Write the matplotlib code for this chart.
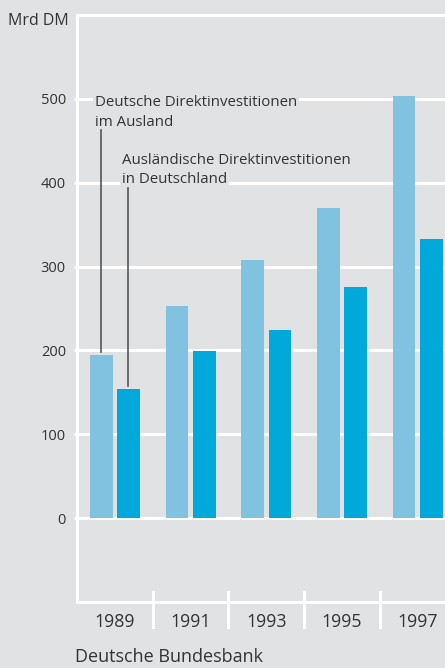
import matplotlib
matplotlib.use("Agg")
import matplotlib.pyplot as plt
import numpy as np

# data (Mrd DM)
years = ["1989", "1991", "1993", "1995", "1997"]
deutsche_im_ausland = [194, 253, 308, 370, 503]
auslaendische_in_de = [154, 199, 224, 276, 333]
yticks = [0, 100, 200, 300, 400, 500]

bg = "#e1e2e4"
light = "#80c2e0"
dark = "#00a9d9"
txt = "#333333"

plt.rcParams['font.family'] = ['Open Sans', 'DejaVu Sans']

fig = plt.figure(figsize=(4.45, 6.68), dpi=100)
fig.patch.set_facecolor(bg)
W, H = 445.0, 668.0
ax = fig.add_axes([77 / W, (H - 602) / H, 378.5 / W, 587 / H])
ax.set_facecolor(bg)

x = np.arange(len(years))
bw = 0.30
off = 0.18
ax.bar(x - off, deutsche_im_ausland, bw, color=light, zorder=3)
ax.bar(x + off, auslaendische_in_de, bw, color=dark, zorder=3)

ax.set_xlim(-0.5, 4.5)
ax.set_ylim(-100, 600)

# white grid
for v in yticks:
    ax.axhline(v, color="white", lw=2.2, zorder=1)
for s in ax.spines.values():
    s.set_visible(False)
ax.axvline(-0.5, color="white", lw=2.2, zorder=1, clip_on=False)
ax.axhline(600, color="white", lw=2.2, zorder=1, clip_on=False)
ax.axhline(-100, color="white", lw=2.2, zorder=1, clip_on=False)

# category separators below axis
for b in np.arange(0.5, 4.5, 1):
    ax.plot([b, b], [-88, -130], color="white", lw=2.2, clip_on=False, zorder=1)

ax.set_xticks([])
ax.set_yticks(yticks)
ax.set_yticklabels([str(v) for v in yticks], fontsize=10.5, color=txt)
ax.tick_params(axis="y", length=2, width=2, color="white", pad=6)

for i, yr in enumerate(years):
    ax.text(i, -124, yr, ha="center", va="center", fontsize=12.8, color=txt, clip_on=False)

fig.text(8 / W, 1 - 21 / H, "Mrd DM", ha="left", va="center", fontsize=11.5, color=txt)
fig.text(75 / W, 1 - 657 / H, "Deutsche Bundesbank", ha="left", va="center", fontsize=13, color=txt)

# labels with leader lines
box = dict(facecolor=bg, edgecolor="none", pad=1.5)
fs = 10.8
ax.text(-0.262, 491.6, "Deutsche Direktinvestitionen", fontsize=fs, color=txt,
        va="baseline", ha="left", bbox=box, zorder=4)
ax.text(-0.262, 468, "im Ausland", fontsize=fs, color=txt,
        va="baseline", ha="left", bbox=box, zorder=4)
ax.text(0.094, 422, "Ausländische Direktinvestitionen", fontsize=fs, color=txt,
        va="baseline", ha="left", bbox=box, zorder=4)
ax.text(0.094, 400, "in Deutschland", fontsize=fs, color=txt,
        va="baseline", ha="left", bbox=box, zorder=4)
ax.plot([-off, -off], [deutsche_im_ausland[0] + 4, 463], color="#555555", lw=1.2, zorder=4)
ax.plot([off, off], [auslaendische_in_de[0] + 4, 394], color="#555555", lw=1.2, zorder=4)

fig.savefig("out.png", dpi=100, facecolor=bg)
